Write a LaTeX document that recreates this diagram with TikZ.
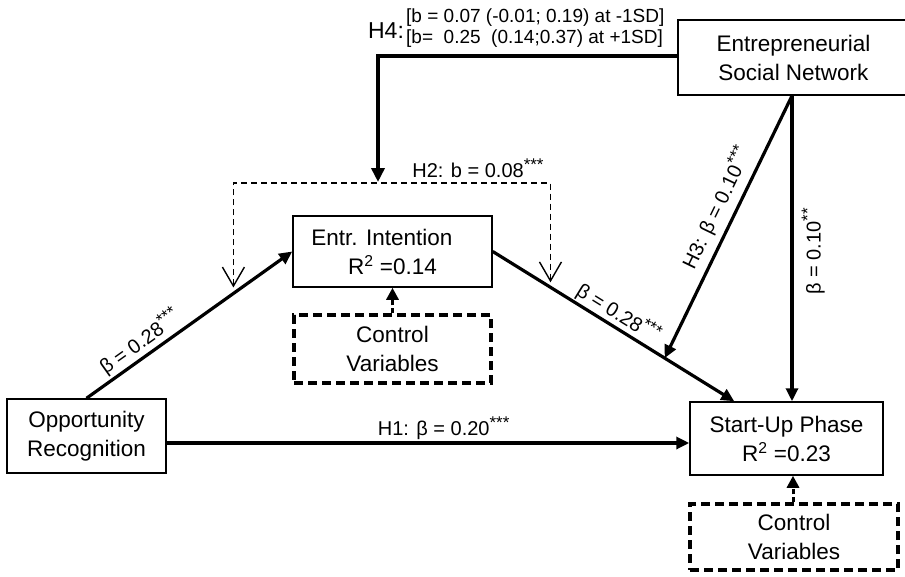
\documentclass[tikz,border=0pt]{standalone}
\usepackage{fontspec}
\setmainfont{Liberation Sans}
\usetikzlibrary{arrows.meta}

\newcommand{\sig}[1]{\raisebox{0.36em}{\fontsize{17}{17}\selectfont #1}}

\tikzset{
  varbox/.style={draw, line width=1.5pt, inner sep=0pt, align=center, font=\fontsize{22.5}{29}\selectfont},
  ctrlbox/.style={draw, line width=3.2pt, dash pattern=on 9pt off 5pt, inner sep=0pt, align=center, font=\fontsize{22.5}{29}\selectfont},
  mainpath/.style={line width=3.2pt, -{Triangle[length=13pt,width=12pt]}},
  ctrlpath/.style={line width=3pt, dash pattern=on 5pt off 3pt, -{Triangle[length=12pt,width=12pt]}},
  modpath/.style={line width=1.4pt, dash pattern=on 6pt off 4pt, {Straight Barb[length=19pt,width=22pt]}-{Straight Barb[length=19pt,width=22pt]}},
  coef/.style={font=\fontsize{20}{22}\selectfont, inner sep=2pt}
}

\begin{document}
\begin{tikzpicture}[x=1pt, y=-1pt]
\clip (0,0) rectangle (905,576);
% Boxes
\node[varbox, minimum width=159pt, minimum height=74pt] (or) at (86.5,436) {Opportunity\\Recognition};
\node[varbox, minimum width=199pt, minimum height=71pt] (ei) at (392.5,251.5) {Entr. Intention\hphantom{W}\\R\textsuperscript{2} =0.14};
\node[ctrlbox, minimum width=197pt, minimum height=68pt] (cv1) at (392.5,349) {Control\\Variables};
\node[varbox, minimum width=193pt, minimum height=73pt] (sup) at (786.5,438.5) {Start-Up Phase\\R\textsuperscript{2} =0.23};
\node[ctrlbox, minimum width=208pt, minimum height=66pt] (cv2) at (794,537) {Control\\Variables};
\node[varbox, minimum width=231pt, minimum height=75pt] (esn) at (793.5,57.5) {Entrepreneurial\\Social Network};

\coordinate (esnout) at ([xshift=-1.5pt]esn.south);
\coordinate (supin) at ([xshift=45pt]sup.north west);

% Main paths
\draw[mainpath] (or.north) -- coordinate[pos=0.714] (onA) (ei.west)
  node[coef, pos=0.3, sloped, above] {β = 0.28\sig{***}};
\draw[mainpath] (ei.east) -- coordinate[pos=0.239] (onB) coordinate[pos=0.712] (h3end) (supin)
  node[coef, pos=0.49, sloped, above, inner sep=1pt] {β = 0.28\sig{***}};
\draw[mainpath] (or.east |- 0,443) -- (sup.west |- 0,443)
  node[coef, pos=0.53, above] {H1: β = 0.20\sig{***}};
\draw[mainpath] (esnout) -- (h3end)
  node[coef, pos=0.46, sloped, above, inner sep=6pt] {H3: β = 0.10\sig{***}};
\draw[mainpath] (esnout) -- (esnout |- sup.north)
  node[coef, pos=0.51, rotate=90, anchor=north, inner sep=8pt] {β = 0.10\sig{**}};

% Control variables
\draw[ctrlpath] (cv1.north) -- (ei.south);
\draw[ctrlpath] ([xshift=-1pt]cv2.north) -- ([xshift=6.5pt]sup.south);

% Moderation H2
\coordinate (h2top) at (392,183);
\draw[modpath, shorten <=6pt, shorten >=5pt] (onA) |- (h2top) -| (onB);
\node[coef] (h2lab) at (478,168) {H2: b = 0.08\sig{***}};

% Moderation H4
\draw[line width=4pt, -{Triangle[length=14pt,width=13pt]}] (esn.west |- 0,56) -| (378,182);
\node[font=\fontsize{23}{25}\selectfont, inner sep=0pt] (h4lab) at (386,31) {H4:};
\node[font=\fontsize{19}{21}\selectfont, inner sep=0pt, align=left, anchor=west] (h4val) at (406,28.5)
  {{[}b = 0.07 (-0.01; 0.19) at -1SD]\\{[}b=\ \ 0.25\ \ (0.14;0.37) at +1SD]};
\end{tikzpicture}
\end{document}
